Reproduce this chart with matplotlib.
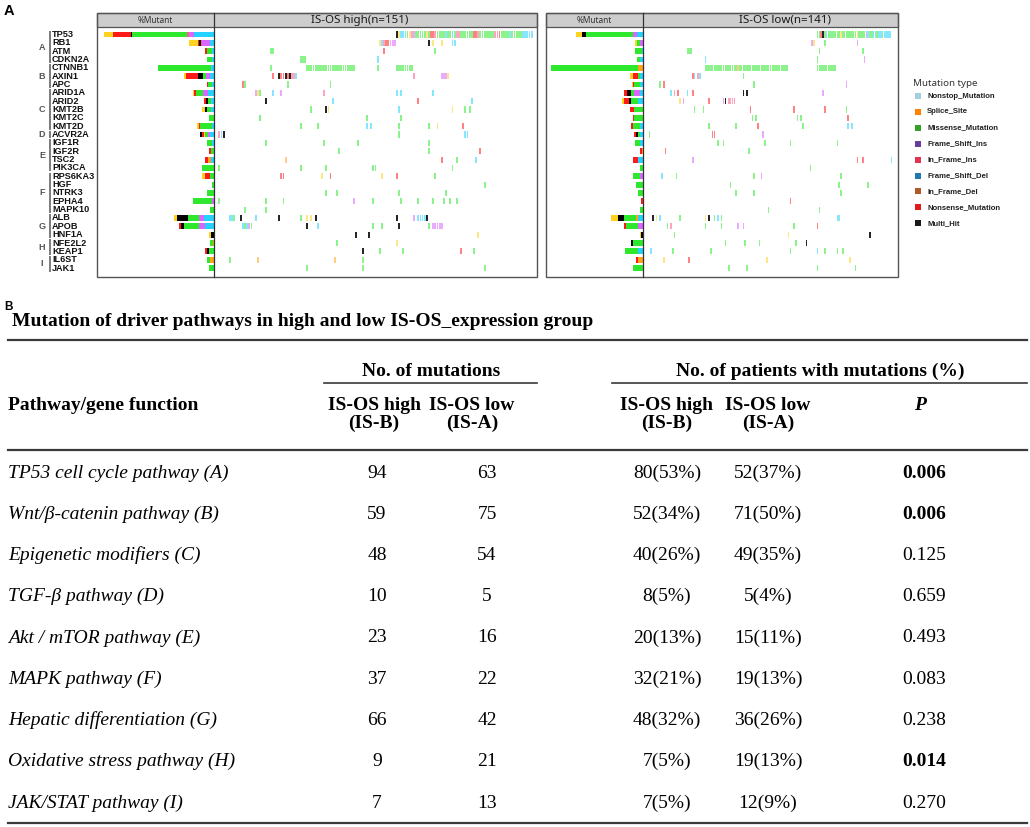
import matplotlib
matplotlib.use("Agg")
import matplotlib.pyplot as plt
from matplotlib.patches import Rectangle

###############################################################################
# Data
###############################################################################
genes = ["TP53", "RB1", "ATM", "CDKN2A", "CTNNB1", "AXIN1", "APC", "ARID1A",
         "ARID2", "KMT2B", "KMT2C", "KMT2D", "ACVR2A", "IGF1R", "IGF2R", "TSC2",
         "PIK3CA", "RPS6KA3", "HGF", "NTRK3", "EPHA4", "MAPK10", "ALB", "APOB",
         "HNF1A", "NFE2L2", "KEAP1", "IL6ST", "JAK1"]
gene_groups = ["A"] * 4 + ["B"] * 3 + ["C"] * 5 + ["D"] + ["E"] * 4 + ["F"] * 5 + \
              ["G"] * 3 + ["H"] * 2 + ["I"] * 2

n_high = 151
n_low = 141

# %Mutant bars, segments listed left to right (type code + size)
high_bars = ["Y9 R18 K1.5 G55 P2 V5 C20", "Y9 R1 K2 P1 V8 C4", "R1.5 G5 C2.5", "G5 C2",
             "G53 C3", "Y2 R12 K5 G3 V4 C4", "R1.3 G3.5 C2.5", "Y1.3 R2 G7 V5 C6",
             "R2 K2 G3 C3", "Y3 K2 G4 C3", "G5", "Y1.3 R1.3 G12 C2",
             "K2 R1.3 Y1.3 G2.5 V2.5 C4", "G5 C2", "R2 G3", "R3 O3 C3", "G12",
             "Y3 R5 G4", "G2", "G7", "G19 V2", "G4", "Y3 K11 G11 V5 C10",
             "R2 K3 G15 V6 C9", "Y2 K3", "G2.5 O1.5", "R2 K2 G5", "G3 O4", "G5"]
low_bars = ["Y6 K4 G47 V4 C6", "Y1.7 G2.7 V3.3", "G6.5 C1.5", "G3 C3", "G87 O5",
            "Y3 R5 G2.5 C3", "Y1 R1.3 G6 C2.7", "R3 K4 G2.7 V6 C3.3",
            "Y1.7 R5 K2.3 G6.7 C5.3", "R4 G8.7", "R1.3 G8.7", "R2 G7.3 C2.7",
            "R2 K1.3 G2.7 C2.7", "G5 C2.7", "R1.5 O1.5", "R4.7 C5.3", "G3",
            "G6.7 V3.3", "G6.7", "G5", "R2.5", "G3", "Y7 K6 G12.7 O1.3 C5.3",
            "R2.7 G11.3 V5.3", "Y1.7 K1.7", "K2 G10", "G12.3 C5.3", "R1.7 O5", "G10"]

# oncoplot cells: "first_patient:type codes" (consecutive patients)
high_cells = [
    "85:K 86:YCCCGYPVGGGGGYGRRPGGGGCGGCGPPGGGGGGRRPGGGGGGGPPRGGGGCGGGGGCCCCC",
    "77:YCPRRVVV 100:K 102:Y 106:Y 111:CC",
    "26:GG 79:R 103:G",
    "40:GGG 76:C",
    "26:G 43:GGGGGGGGGGGGGGGGGGGGGGG 76:G 85:GGGGGGGG",
    "27:R 30:KRRKRKPPC 93:P 106:VVV 109:Y",
    "13:RG 34:G 54:G",
    "19:VYG 27:C 31:V 51:P 85:C 87:C 102:C",
    "24:K 55:C 95:R 120:C",
    "45:G 52:KY 86:C 111:Y 117:G 119:G",
    "21:G 71:G 87:G",
    "40:G 48:G 71:C 73:C 86:G 100:G 104:Y 116:R",
    "2:PCK 86:G 117:CC",
    "24:G 51:G 67:G 100:G",
    "58:G 100:G 124:R",
    "33:O 106:R 113:G 122:C",
    "2:G 40:G 52:G 74:GG 111:G",
    "31:RR 50:Y 54:R 78:Y 85:R 103:G",
    "126:G",
    "52:G 57:G 86:G 108:G",
    "2:G 24:G 32:G 65:V 74:G 87:G 95:G 102:G 107:G 110:G 113:G",
    "14:G 24:G",
    "7:CCG 12:K 19:C 30:K 40:G 43:Y 45:Y 47:K 85:K 93:V 95:CCCC 99:K",
    "13:CGCVG 43:K 48:C 74:G 78:G 86:K 100:G 102:VVVVV",
    "66:K 72:K 123:Y",
    "57:G 85:Y",
    "69:K 77:G 88:G 115:R 121:G",
    "7:G 20:O 56:O 69:G",
    "43:G 69:G 126:G",
]
low_cells = [
    "96:GGRKGCGGGGGGGYGGGGGGGGYGGGGVCGGCCGCCGCCCC",
    "93:VY 100:G 118:V",
    "24:GGG 97:G 121:G",
    "34:C 96:G 122:V",
    "34:GGGGGGGGGGGGGGGGGGOGGGGGGGGGGGGGGGGGGGGGGGGGGG 96:GGGGGGGGGGG",
    "27:RC 30:PC 55:G",
    "9:G 11:R 61:G 112:V",
    "15:C 17:P 19:R 24:C 27:R 55:K 57:K 99:V",
    "20:Y 22:V 36:R 44:VK 47:PPPP",
    "28:G 33:G 59:R 83:R 100:R 112:G",
    "60:G 62:G 85:G 87:G 113:R",
    "36:G 51:G 63:R 88:G 113:C 115:C",
    "3:G 38:RR 66:V",
    "41:G 44:G 67:G 81:G 107:G",
    "12:R 58:G",
    "27:V 118:R 121:R 137:C",
    "92:G",
    "10:C 18:G 61:G 65:V 109:G",
    "48:G 108:G 124:G",
    "51:G 61:G 109:G",
    "81:R",
    "69:G 97:G",
    "5:K 7:Y 9:C 20:G 34:Y 36:K 39:G 41:C 43:G 107:CC",
    "13:G 15:P 34:G 43:G 52:V 55:V 83:G 96:R",
    "17:G 80:Y 125:K",
    "45:G 56:G 64:G 84:G 90:K",
    "4:C 16:G 37:G 81:G 96:C 100:G 107:G 110:G",
    "11:Y 25:R 68:Y 114:Y",
    "47:G 57:G 96:G 117:G",
]

# panel B table
pathways = ["TP53 cell cycle pathway (A)", "Wnt/\u03b2-catenin pathway (B)",
            "Epigenetic modifiers (C)", "TGF-\u03b2 pathway (D)", "Akt / mTOR pathway (E)",
            "MAPK pathway (F)", "Hepatic differentiation (G)",
            "Oxidative stress pathway (H)", "JAK/STAT pathway (I)"]
mut_high = [94, 59, 48, 10, 23, 37, 66, 9, 7]
mut_low = [63, 75, 54, 5, 16, 22, 42, 21, 13]
pat_high = [80, 52, 40, 8, 20, 32, 48, 7, 7]
pat_high_pct = [53, 34, 26, 5, 13, 21, 32, 5, 5]
pat_low = [52, 71, 49, 5, 15, 19, 36, 19, 12]
pat_low_pct = [37, 50, 35, 4, 11, 13, 26, 13, 9]
p_values = ["0.006", "0.006", "0.125", "0.659", "0.493", "0.083", "0.238", "0.014", "0.270"]

legend_labels = ["Nonstop_Mutation", "Splice_Site", "Missense_Mutation", "Frame_Shift_Ins",
                 "In_Frame_Ins", "Frame_Shift_Del", "In_Frame_Del", "Nonsense_Mutation",
                 "Multi_Hit"]
legend_colors = ["#a6cee3", "#ff7f00", "#33a02c", "#6a3d9a", "#e3344e", "#1f78b4",
                 "#b15928", "#e31a1c", "#1a1a1a"]

type_colors = {"G": "#2ee82e", "R": "#ff1a1a", "K": "#000000", "Y": "#ffd21f",
               "O": "#ffa31a", "V": "#d966ff", "P": "#ff5a8a", "C": "#25d2ff"}

###############################################################################
# helpers
###############################################################################
W, H = 1030, 827
fig = plt.figure(figsize=(W / 100, H / 100), dpi=100)


def px_axes(x0, y0, x1, y1):
    ax = fig.add_axes([x0 / W, 1 - y1 / H, (x1 - x0) / W, (y1 - y0) / H])
    ax.set_axis_off()
    return ax


def parse_bar(spec):
    return [(tok[0], float(tok[1:])) for tok in spec.split()]


def parse_cells(spec):
    out = []
    for tok in spec.split():
        start, codes = tok.split(":")
        for k, c in enumerate(codes):
            out.append((int(start) + k, c))
    return out


row0, pitch = 34.5, 8.34     # pixel centre of first gene row, row spacing
top, bottom = 27, 277


def row_lim():
    return ((bottom - row0) / pitch, (top - row0) / pitch)


def draw_bars(ax, bars):
    for r, spec in enumerate(bars):
        segs = parse_bar(spec)[::-1]
        left = 0
        for code, val in segs:
            ax.barh(r, val, left=left, height=0.7, color=type_colors[code], lw=0,
                    clip_on=False)
            left += val
    ax.set_ylim(*row_lim())


def draw_cells(ax, cells, n):
    for r, spec in enumerate(cells):
        for idx, code in parse_cells(spec):
            a = 0.85 if code == "K" else 0.55
            ax.bar(idx, 0.74, bottom=r - 0.37, width=0.85, color=type_colors[code],
                   alpha=a, lw=0)
    ax.set_xlim(-0.5, n - 0.5)
    ax.set_ylim(*row_lim())


###############################################################################
# panel A
###############################################################################
hb = px_axes(97, top, 214, bottom)
hb.set_xlim(214 - 97, 0)
draw_bars(hb, high_bars)
hg = px_axes(214, top, 537, bottom)
draw_cells(hg, high_cells, n_high)

lb = px_axes(546, top, 643, bottom)
lb.set_xlim(643 - 546, 0)
draw_bars(lb, low_bars)
lg = px_axes(643, top, 898, bottom)
draw_cells(lg, low_cells, n_low)

ov = fig.add_axes([0, 0, 1, 1])
ov.set_xlim(0, W)
ov.set_ylim(H, 0)
ov.set_axis_off()
ov.set_zorder(10)

edge = "#555555"
for x0, xd, x1, title, tx in [(97, 214, 537, "IS-OS high(n=151)", 360),
                              (546, 643, 898, "IS-OS low(n=141)", 785)]:
    ov.add_patch(Rectangle((x0, 13), x1 - x0, top - 13, fc="#cdcdcd", ec=edge, lw=0.9))
    ov.add_patch(Rectangle((x0, 13), x1 - x0, bottom - 13, fill=False, ec=edge, lw=1.0))
    ov.plot([xd, xd], [13, bottom], color="#333333", lw=0.9)
    ov.text((x0 + xd) / 2, 20.5, "%Mutant", fontsize=6, family="Noto Sans",
            color="#333333", ha="center", va="center")
    ov.text(tx, 20, title, fontsize=8.3, family="Noto Sans", color="#1a1a1a",
            ha="center", va="center")

# gene names, group letters and brackets
for r, g in enumerate(genes):
    ov.text(52, row0 + r * pitch, g, fontsize=6.6, family="Liberation Sans",
            fontweight="bold", color="#111111", ha="left", va="center")
groups = []
for r, g in enumerate(gene_groups):
    if groups and groups[-1][0] == g:
        groups[-1][2] = r
    else:
        groups.append([g, r, r])
for g, r0, r1 in groups:
    ov.plot([49.5, 49.5], [row0 + (r0 - 0.42) * pitch, row0 + (r1 + 0.42) * pitch],
            color="#666666", lw=1.2, solid_capstyle="butt")
    ov.text(42, row0 + (r0 + r1) / 2 * pitch, g, fontsize=6.5, family="Liberation Sans",
            fontweight="bold", color="#555555", ha="center", va="center")

# legend
ov.text(913, 84, "Mutation type", fontsize=7, family="Noto Sans", color="#333333",
        ha="left", va="center")
for i, (lab, col) in enumerate(zip(legend_labels, legend_colors)):
    y = 96 + i * 15.9
    ov.add_patch(Rectangle((914.5, y - 3), 6, 6, fc=col, lw=0))
    ov.text(927, y, lab, fontsize=5.6, family="Liberation Sans", fontweight="bold",
            color="#222222", ha="left", va="center")

ov.text(4, 11, "A", fontsize=10.5, family="Liberation Sans", fontweight="bold",
        ha="left", va="center")

###############################################################################
# panel B (table)
###############################################################################
ov.text(4, 307, "B", fontsize=8.5, family="Liberation Sans", fontweight="bold",
        ha="left", va="center")
serif = "Liberation Serif"
fs = 14
ov.text(12, 322, "Mutation of driver pathways in high and low IS-OS_expression group",
        fontsize=fs, family=serif, fontweight="bold", ha="left", va="center")

rule = "#3a3a3a"
ov.plot([8, 1027], [340, 340], color=rule, lw=1.6)
ov.plot([324, 537], [383, 383], color=rule, lw=1.2)
ov.plot([612, 1027], [383, 383], color=rule, lw=1.2)
ov.plot([8, 1027], [450, 450], color=rule, lw=1.6)
ov.plot([8, 1027], [823, 823], color=rule, lw=1.6)

ov.text(431, 371, "No. of mutations", fontsize=fs, family=serif, fontweight="bold",
        ha="center", va="center")
ov.text(820, 371, "No. of patients with mutations (%)", fontsize=fs, family=serif,
        fontweight="bold", ha="center", va="center")
ov.text(8, 406, "Pathway/gene function", fontsize=fs, family=serif, fontweight="bold",
        ha="left", va="center")
for x, l1, l2 in [(374, "IS-OS high", "(IS-B)"), (472, "IS-OS low", "(IS-A)"),
                  (667, "IS-OS high", "(IS-B)"), (768, "IS-OS low", "(IS-A)")]:
    ov.text(x, 405, l1, fontsize=fs, family=serif, fontweight="bold",
            ha="center", va="center")
    ov.text(x, 423, l2, fontsize=fs, family=serif, fontweight="bold",
            ha="center", va="center")
ov.text(920, 405, "P", fontsize=fs, family=serif, fontweight="bold", style="italic",
        ha="center", va="center")

for i, name in enumerate(pathways):
    y = 473 + i * 41.25
    ov.text(8, y, name, fontsize=fs, family=serif, style="italic", ha="left", va="center")
    ov.text(377, y, str(mut_high[i]), fontsize=fs, family=serif, ha="center", va="center")
    ov.text(487, y, str(mut_low[i]), fontsize=fs, family=serif, ha="center", va="center")
    ov.text(667, y, f"{pat_high[i]}({pat_high_pct[i]}%)", fontsize=fs, family=serif,
            ha="center", va="center")
    ov.text(768, y, f"{pat_low[i]}({pat_low_pct[i]}%)", fontsize=fs, family=serif,
            ha="center", va="center")
    ov.text(924, y, p_values[i], fontsize=fs, family=serif,
            fontweight="bold" if float(p_values[i]) < 0.05 else "normal",
            ha="center", va="center")

fig.savefig("out.png", dpi=100)
